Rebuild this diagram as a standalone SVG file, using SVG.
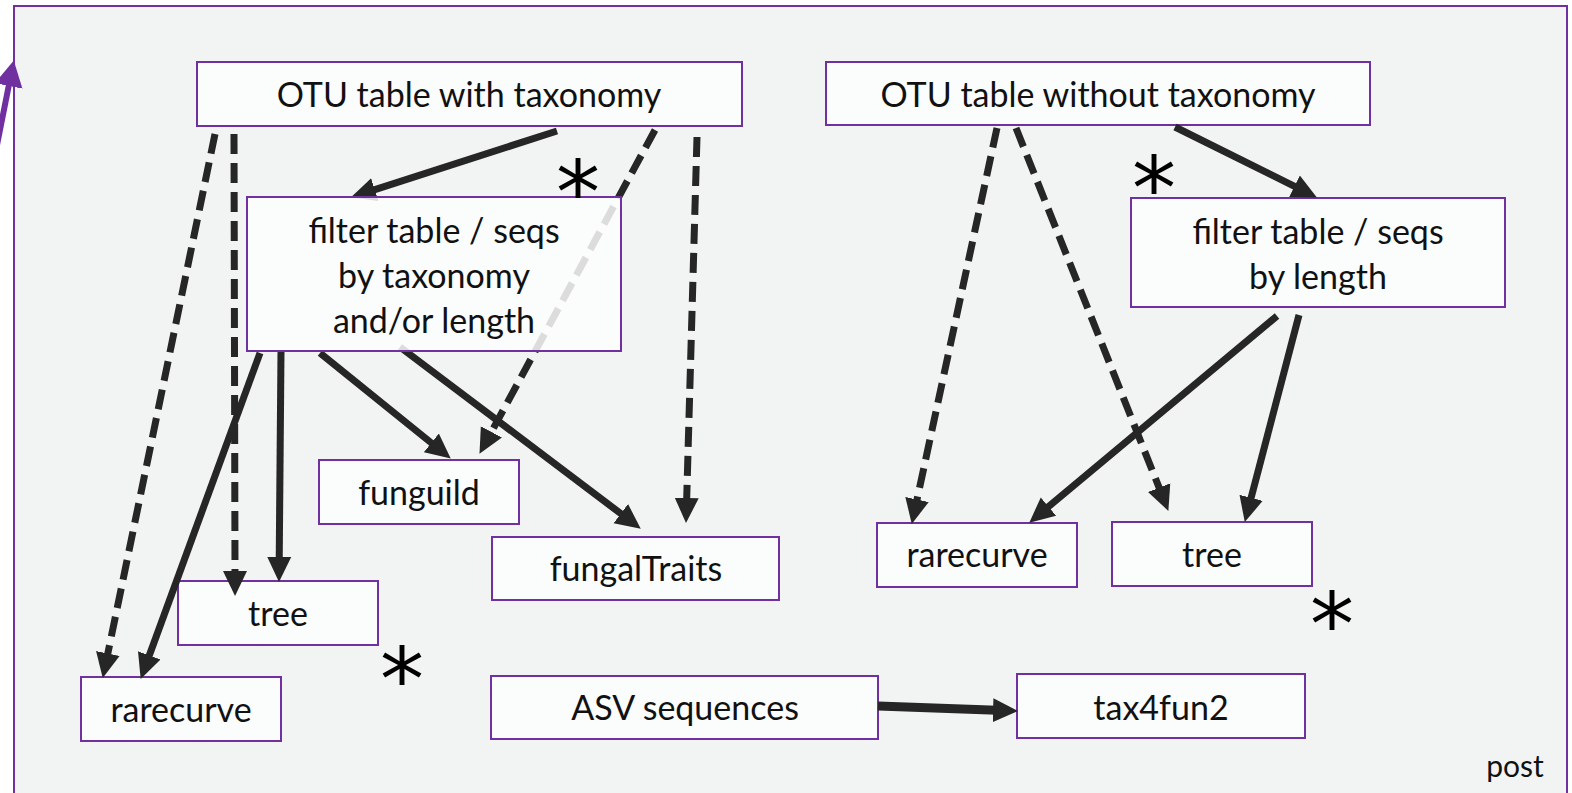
<svg xmlns="http://www.w3.org/2000/svg" width="1572" height="793" viewBox="0 0 1572 793">
<defs>
<marker id="ah" markerUnits="userSpaceOnUse" markerWidth="26" markerHeight="26" viewBox="0 0 26 26" refX="4" refY="13" orient="auto">
<path d="M0,1 L25,13 L0,25 z" fill="#262626"/>
</marker>
<marker id="ahp" markerUnits="userSpaceOnUse" markerWidth="26" markerHeight="30" viewBox="0 0 26 30" refX="4" refY="15" orient="auto">
<path d="M0,1 L26,15 L0,29 z" fill="#7030a0"/>
</marker>
<style>
.box{fill:#fdfdfd;fill-opacity:0.85;stroke:#7030a0;stroke-width:2}
.t{font-family:Lato,"Open Sans","Liberation Sans",sans-serif;font-size:34px;fill:#111;text-anchor:middle}
.ast{font-family:"DejaVu Sans",sans-serif;font-size:88px;fill:#000;text-anchor:middle}
.c{stroke:#262626;stroke-width:7;fill:none;marker-end:url(#ah)}
.d{stroke-dasharray:20 9}
</style>
</defs>
<rect x="0" y="0" width="1572" height="793" fill="#ffffff"/>
<rect x="14" y="6" width="1553" height="800" fill="#f1f4f3" stroke="#7030a0" stroke-width="2"/>
<line x1="-4" y1="150" x2="9.5" y2="82" stroke="#7030a0" stroke-width="6" marker-end="url(#ahp)"/>

<g id="otu-tax"><rect class="box" x="197" y="62" width="545" height="64"/><text class="t" x="469" y="107">OTU table with taxonomy</text></g>
<g id="otu-notax"><rect class="box" x="826" y="62" width="544" height="63"/><text class="t" x="1098" y="107">OTU table without taxonomy</text></g>
<g id="filter-len"><rect class="box" x="1131" y="198" width="374" height="109"/><text class="t" x="1318" y="244">filter table / seqs</text><text class="t" x="1318" y="289">by length</text></g>
<g id="funguild"><rect class="box" x="319" y="460" width="200" height="64"/><text class="t" x="419" y="505">funguild</text></g>
<g id="fungaltraits"><rect class="box" x="492" y="537" width="287" height="63"/><text class="t" x="636" y="581">fungalTraits</text></g>
<g id="tree-l"><rect class="box" x="178" y="581" width="200" height="64"/><text class="t" x="278" y="626">tree</text></g>
<g id="rare-l"><rect class="box" x="81" y="677" width="200" height="64"/><text class="t" x="181" y="722">rarecurve</text></g>
<g id="rare-r"><rect class="box" x="877" y="523" width="200" height="64"/><text class="t" x="977" y="567">rarecurve</text></g>
<g id="tree-r"><rect class="box" x="1112" y="522" width="200" height="64"/><text class="t" x="1212" y="567">tree</text></g>
<g id="asv"><rect class="box" x="491" y="676" width="387" height="63"/><text class="t" x="685" y="720">ASV sequences</text></g>
<g id="tax4fun2"><rect class="box" x="1017" y="674" width="288" height="64"/><text class="t" x="1161" y="720">tax4fun2</text></g>

<g id="connectors">
<path class="c d" d="M215,134 L107,657.4"/>
<path class="c d" d="M234,134 L235,575"/>
<path class="c" d="M557,131 L371,190.9"/>
<path class="c d" d="M655,130 L489.5,435.4"/>
<path class="c d" d="M697,137 L686.6,502"/>
<path class="c" d="M260,353 L147.9,659.2"/>
<path class="c" d="M281,351 L279.2,561"/>
<path class="c" d="M320,353 L434.4,445.4"/>
<path class="c" d="M400,347 L624,516"/>
<path class="c d" d="M997,128 L916.2,503.4"/>
<path class="c d" d="M1016,128 L1160.6,491.4"/>
<path class="c" d="M1175,127 L1298.1,188.1"/>
<path class="c" d="M1277,316 L1045.4,509.2"/>
<path class="c" d="M1299,315 L1250.1,501.7"/>
<path class="c" style="stroke-width:9" d="M878,706 L997,710.3"/>
</g>

<g id="filter-tax"><rect class="box" x="247" y="197" width="374" height="154"/><text class="t" x="434" y="243">filter table / seqs</text><text class="t" x="434" y="288">by taxonomy</text><text class="t" x="434" y="333">and/or length</text></g>

<g id="asterisks">
<text class="ast" x="578" y="223">*</text>
<text class="ast" x="1154" y="219">*</text>
<text class="ast" x="1332" y="655">*</text>
<text class="ast" x="402" y="710">*</text>
</g>
<text class="t" x="1515" y="777" style="font-size:30px">post</text>
</svg>
